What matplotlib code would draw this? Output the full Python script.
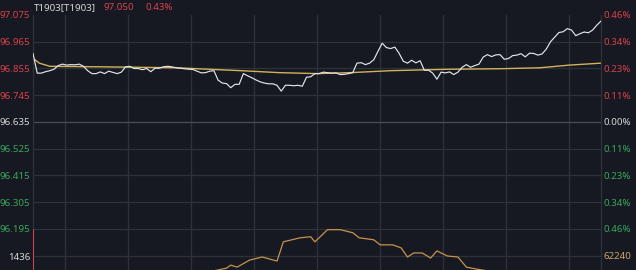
import matplotlib
matplotlib.use("Agg")
import matplotlib.pyplot as plt

# ---------------- data ----------------
symbol = "T1903[T1903]"
last_price = "97.050"
last_change = "0.43%"
pre_settle = 96.635

# price sampled every 2 minutes over the trading day (minute 0..270)
price = [96.917, 96.836, 96.836, 96.842, 96.846, 96.852, 96.867, 96.873, 96.869, 96.871,
         96.870, 96.873, 96.864, 96.846, 96.834, 96.834, 96.841, 96.834, 96.844, 96.839,
         96.834, 96.840, 96.862, 96.864, 96.855, 96.855, 96.850, 96.855, 96.842, 96.856,
         96.856, 96.862, 96.864, 96.862, 96.858, 96.856, 96.854, 96.852, 96.851, 96.844,
         96.837, 96.838, 96.844, 96.846, 96.807, 96.795, 96.793, 96.776, 96.790, 96.790,
         96.834, 96.825, 96.817, 96.808, 96.800, 96.795, 96.792, 96.792, 96.786, 96.762,
         96.786, 96.786, 96.784, 96.786, 96.782, 96.819, 96.821, 96.834, 96.834, 96.840,
         96.838, 96.836, 96.837, 96.830, 96.831, 96.834, 96.838, 96.877, 96.879, 96.871,
         96.877, 96.891, 96.926, 96.959, 96.941, 96.937, 96.943, 96.918, 96.885, 96.877,
         96.889, 96.878, 96.887, 96.848, 96.848, 96.836, 96.811, 96.840, 96.837, 96.841,
         96.830, 96.840, 96.860, 96.871, 96.860, 96.867, 96.873, 96.902, 96.912, 96.904,
         96.911, 96.912, 96.893, 96.896, 96.908, 96.910, 96.916, 96.903, 96.918, 96.917,
         96.910, 96.915, 96.935, 96.965, 96.984, 97.003, 97.006, 97.019, 97.013, 96.990,
         96.998, 97.005, 97.002, 97.013, 97.033, 97.050]
price_minutes = list(range(0, 271, 2))

avg_minutes = [0, 3, 8, 32, 68, 99, 117, 135, 151, 170, 198, 222, 241, 255, 270]
avg_price = [96.897, 96.877, 96.864, 96.862, 96.858, 96.846, 96.838, 96.834, 96.838, 96.846,
             96.852, 96.854, 96.858, 96.869, 96.877]

oi_minutes = [0, 30, 60, 80, 92, 94, 97, 103, 109, 116, 119, 127, 132, 134, 140, 146, 152,
              155, 162, 165, 171, 175, 178, 181, 185, 189, 192, 197, 202, 206, 211, 230, 270]
open_interest = [61800, 61850, 61900, 61980, 62060, 62105, 62075, 62180, 62225, 62165, 62450,
                 62510, 62525, 62450, 62630, 62630, 62585, 62510, 62480, 62405, 62405, 62360,
                 62225, 62285, 62285, 62210, 62315, 62240, 62225, 62075, 62045, 61950, 61900]

volume_minutes = [0]
volume = [3350]

price_ticks = [96.195, 96.305, 96.415, 96.525, 96.635, 96.745, 96.855, 96.965, 97.075]
pct_labels = ["0.46%", "0.34%", "0.23%", "0.11%", "0.00%", "0.11%", "0.23%", "0.34%", "0.46%"]
vol_tick = 1436
oi_tick = 62240

# ---------------- style ----------------
BG = "#161922"
GRID = "#2d313a"
GRID0 = "#4a4e57"
RED = "#d8404b"
GREEN = "#3aa55c"
WHITE = "#d6d6d6"
PRICE_C = "#e4e4ea"
AVG_C = "#d2b25a"
OI_C = "#c9924a"
FONT = "Noto Sans"

W, H = 636, 270
fig = plt.figure(figsize=(W / 100, H / 100), dpi=100, facecolor=BG)

x0, x1 = 33, 601
ytop, ymid, ybot = 15, 229, 283

ax = fig.add_axes([x0 / W, 1 - ymid / H, (x1 - x0) / W, (ymid - ytop) / H])
ax.set_facecolor(BG)
ax.set_xlim(0, 270)
ax.set_ylim(price_ticks[0], price_ticks[-1])

vgrid = list(range(15, 270, 30))
for v in vgrid:
    ax.axvline(v, color=GRID, lw=0.9, zorder=0)
for t in price_ticks[:-1]:
    ax.axhline(t, color=GRID0 if abs(t - pre_settle) < 1e-9 else GRID, lw=0.9, zorder=0)

ax.plot(avg_minutes, avg_price, color=AVG_C, lw=1.0, zorder=2)
ax.plot(price_minutes, price, color=PRICE_C, lw=0.85, zorder=3)

for s in ["top", "bottom"]:
    ax.spines[s].set_visible(False)
for s in ["left", "right"]:
    ax.spines[s].set_color(GRID)
    ax.spines[s].set_linewidth(0.9)
ax.set_xticks([])
ax.set_yticks(price_ticks)
ax.set_yticklabels([f"{t:.3f}" for t in price_ticks], fontfamily=FONT, fontsize=7)
ax.tick_params(axis="y", length=0, pad=2)
for t, lab in zip(price_ticks, ax.get_yticklabels()):
    lab.set_color(WHITE if abs(t - pre_settle) < 1e-9 else (RED if t > pre_settle else GREEN))

axr = ax.twinx()
axr.set_ylim(ax.get_ylim())
axr.set_yticks(price_ticks)
axr.set_yticklabels(pct_labels, fontfamily=FONT, fontsize=7)
axr.tick_params(axis="y", length=0, pad=2)
for t, lab in zip(price_ticks, axr.get_yticklabels()):
    lab.set_color(WHITE if abs(t - pre_settle) < 1e-9 else (RED if t > pre_settle else GREEN))
for s in axr.spines.values():
    s.set_visible(False)

# lower panel (volume / open interest), extends below the figure edge
axl = fig.add_axes([x0 / W, 1 - ybot / H, (x1 - x0) / W, (ybot - ymid) / H])
axl.set_facecolor(BG)
axl.set_xlim(0, 270)
axl.set_ylim(0, 2 * vol_tick)
for v in vgrid:
    axl.axvline(v, color=GRID, lw=0.9, zorder=0)
axl.axhline(vol_tick, color=GRID, lw=0.9, zorder=0)
axl.axhline(2 * vol_tick, color=GRID, lw=0.9, zorder=0)
axl.bar(volume_minutes, volume, width=0.7, color=RED, align="edge", zorder=4)
axl.set_xticks([])
axl.set_yticks([vol_tick])
axl.set_yticklabels([str(vol_tick)], fontfamily=FONT, fontsize=7, color=WHITE)
axl.tick_params(axis="y", length=0, pad=2)
for s in ["top", "bottom"]:
    axl.spines[s].set_visible(False)
for s in ["left", "right"]:
    axl.spines[s].set_color(GRID)
    axl.spines[s].set_linewidth(0.9)

axo = axl.twinx()
axo.set_ylim(oi_tick - 400, oi_tick + 400)
axo.plot(oi_minutes, open_interest, color=OI_C, lw=0.9, zorder=3)
axo.set_yticks([oi_tick])
axo.set_yticklabels([str(oi_tick)], fontfamily=FONT, fontsize=7, color="#c8a46a")
axo.tick_params(axis="y", length=0, pad=2)
for s in axo.spines.values():
    s.set_visible(False)

# header
fig.text(34 / W, 1 - 7.5 / H, symbol, color=WHITE, fontsize=7, fontfamily=FONT, va="center", ha="left")
fig.text(104 / W, 1 - 7.5 / H, last_price, color=RED, fontsize=7, fontfamily=FONT, va="center", ha="left")
fig.text(145 / W, 1 - 7.5 / H, last_change, color=RED, fontsize=7, fontfamily=FONT, va="center", ha="left")

fig.savefig("out.png", dpi=100, facecolor=BG)
